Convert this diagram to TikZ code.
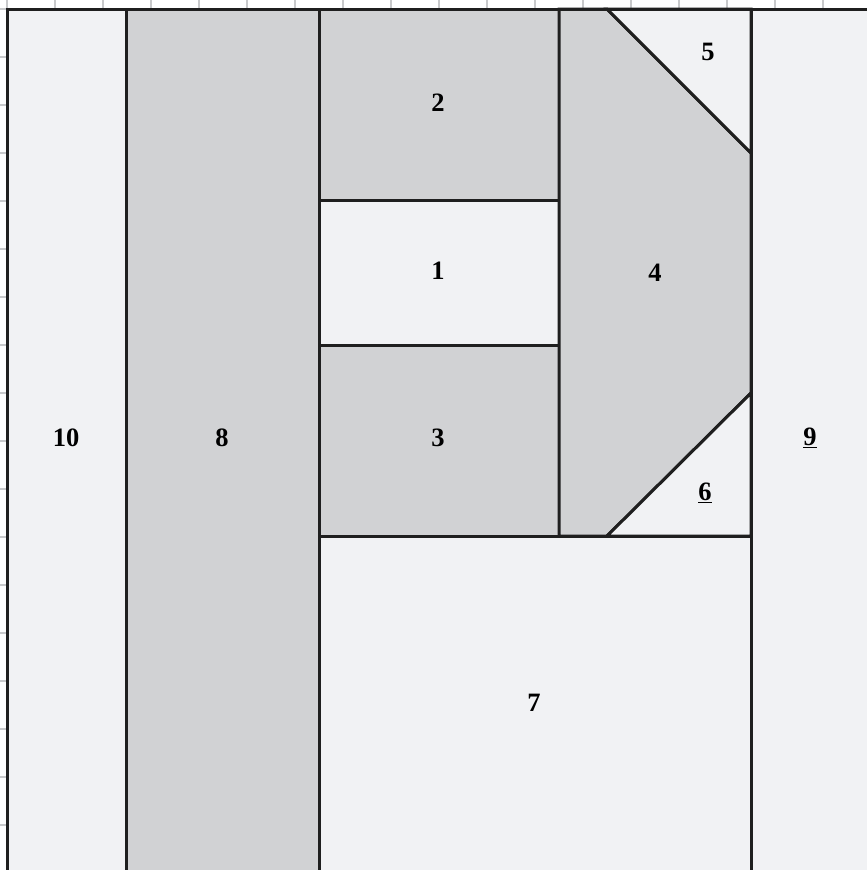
\documentclass[tikz,border=0pt]{standalone}
\usepackage{fontspec}
\setmainfont{Liberation Serif}
\definecolor{lightf}{HTML}{F1F2F4}
\definecolor{darkf}{HTML}{D1D2D4}
\definecolor{tickc}{HTML}{C8C9CB}
\begin{document}
\begin{tikzpicture}[x=1pt,y=-1pt,
  patch/.style={draw=black!88,line width=3pt,line join=miter},
  lbl/.style={font=\fontsize{26.5}{26.5}\selectfont\bfseries,inner sep=0pt},
  tickln/.style={draw=tickc,line width=1.8pt}]
\useasboundingbox (0,0) rectangle (867,870);
\fill[white] (0,0) rectangle (867,870);
% ticks
\foreach \k in {0,...,17}{
  \draw[tickln] ({7+48*\k},0) -- ({7+48*\k},9);
  \draw[tickln] (0,{9+48*\k}) -- (7,{9+48*\k});
}
% patches
\path[patch,fill=lightf] (7,9) rectangle (126,880);
\path[patch,fill=darkf] (126,9) rectangle (319,880);
\path[patch,fill=darkf] (319,9) rectangle (559,200);
\path[patch,fill=lightf] (319,200) rectangle (559,345);
\path[patch,fill=darkf] (319,345) rectangle (559,536);
\path[patch,fill=darkf] (559,9) -- (607,9) -- (751,153) -- (751,393) -- (607,536) -- (559,536) -- cycle;
\path[patch,fill=lightf] (607,9) -- (751,9) -- (751,153) -- cycle;
\path[patch,fill=lightf] (751,393) -- (751,536) -- (607,536) -- cycle;
\path[patch,fill=lightf] (319,536) rectangle (751,880);
\path[patch,fill=lightf] (751,9) rectangle (880,880);
\draw[patch] (7,9) -- (867,9);
% labels
\node[lbl] (n1) at (438,271) {1};
\node[lbl] (n2) at (438,103) {2};
\node[lbl] (n3) at (438,438) {3};
\node[lbl] (n4) at (655,273) {4};
\node[lbl] (n5) at (708,52) {5};
\node[lbl] (n6) at (705,493) {\underline{6}};
\node[lbl] (n7) at (534,703) {7};
\node[lbl] (n8) at (222,438) {8};
\node[lbl] (n9) at (810,438) {\underline{9}};
\node[lbl] (n10) at (66,438) {10};
\end{tikzpicture}
\end{document}
